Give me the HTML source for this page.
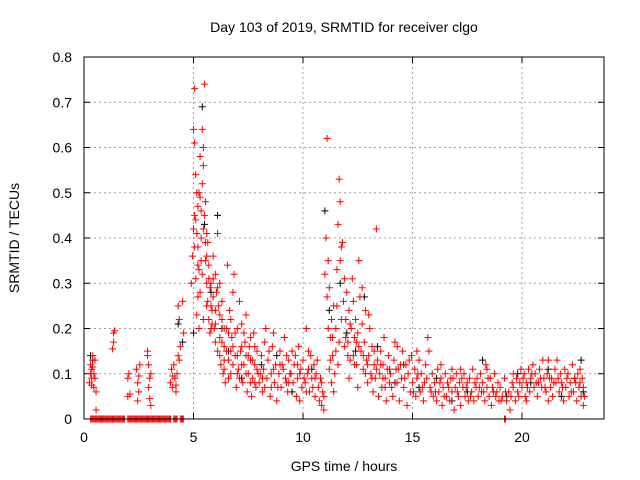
<!DOCTYPE html>
<html><head><meta charset="utf-8"><style>
body{margin:0;background:#fff;}
svg{display:block;font-family:"Liberation Sans",sans-serif;}
</style></head><body>
<svg id="chart" width="640" height="480">
<rect width="640" height="480" fill="#fff"/>
<text x="344" y="32" font-size="14" text-anchor="middle">Day 103 of 2019, SRMTID for receiver clgo</text>
<text x="344" y="471" font-size="14" text-anchor="middle">GPS time / hours</text>
<text transform="translate(19,238) rotate(-90)" font-size="14" text-anchor="middle">SRMTID / TECUs</text>
<g id="grid"></g><g id="ticks"></g><g id="marks"></g>
<rect x="84" y="57" width="520" height="362" fill="none" stroke="#000" stroke-width="1"/>
</svg>
<script>
const xTicks=[0,5,10,15,20];
const yTicks=[0,0.1,0.2,0.3,0.4,0.5,0.6,0.7,0.8];
const yTickLabels=["0","0.1","0.2","0.3","0.4","0.5","0.6","0.7","0.8"];
const zeroTimes=[0.3,0.4,0.5,0.6,0.7,0.8,0.9,1.0,1.1,1.2,1.3,1.4,1.5,1.6,1.7,1.8,2.0,2.1,2.2,2.3,2.4,2.5,2.6,2.7,2.8,2.9,3.0,3.1,3.2,3.3,3.4,3.5,3.6,3.7,3.8,3.9,4.1,4.2,4.4,4.5,19.2];
const blackPoints=[[0.3,0.14],[0.4,0.13],[4.3,0.21],[4.5,0.17],[5.0,0.19],[5.4,0.69],[5.5,0.43],[6.1,0.45],[5.8,0.28],[6.3,0.2],[6.6,0.15],[7.2,0.09],[8.1,0.12],[8.8,0.14],[9.5,0.06],[10.4,0.11],[11.0,0.46],[11.2,0.24],[11.7,0.3],[12.0,0.19],[12.4,0.15],[12.8,0.27],[13.4,0.16],[14.2,0.08],[14.6,0.12],[15.3,0.07],[16.1,0.09],[16.8,0.04],[17.5,0.06],[18.2,0.13],[18.7,0.06],[19.3,0.05],[19.8,0.1],[20.4,0.08],[21.2,0.11],[21.8,0.05],[22.4,0.09],[22.7,0.13],[22.8,0.06]];
const redPoints=[
[0.25,0.08],[0.3,0.1],[0.3,0.12],[0.35,0.09],[0.35,0.11],[0.4,0.14],[0.45,0.1],[0.45,0.07],[0.5,0.13],[0.5,0.09],[0.55,0.06],[0.55,0.02],[0.4,0.115],[0.35,0.075],
[1.35,0.19],[1.35,0.17],[1.4,0.195],[1.3,0.155],
[2.0,0.09],[2.05,0.1],[2.0,0.05],[2.1,0.055],[2.4,0.11],[2.45,0.08],[2.5,0.06],[2.45,0.04],[2.55,0.12],[2.5,0.095],
[2.9,0.14],[2.95,0.12],[3.0,0.09],[2.95,0.07],[3.05,0.1],[3.0,0.045],[3.05,0.03],[2.9,0.15],
[3.95,0.08],[4.0,0.11],[4.05,0.07],[4.1,0.12],[4.15,0.09],[4.2,0.06],[4.25,0.1],[4.3,0.14],[4.35,0.13],[4.4,0.16],[4.3,0.25],[4.35,0.22],[4.5,0.26],[4.55,0.19],[4.05,0.095],[4.2,0.075],
[4.9,0.3],[4.95,0.36],[5.0,0.42],[5.0,0.64],[5.05,0.61],[5.05,0.73],[5.1,0.54],[5.1,0.44],[5.15,0.5],[5.2,0.38],[5.2,0.47],[5.25,0.33],[5.3,0.49],[5.3,0.28],[5.35,0.4],[5.4,0.52],[5.4,0.64],[5.45,0.6],[5.45,0.56],[5.5,0.74],[5.5,0.45],[5.55,0.35],[5.6,0.3],[5.6,0.41],[5.65,0.26],[5.7,0.22],[5.7,0.34],[5.75,0.19],[5.8,0.3],[5.85,0.24],[5.9,0.36],[5.95,0.2],[6.0,0.32],[6.05,0.28],[6.1,0.41],[6.1,0.15],[6.15,0.25],[6.2,0.18],[6.25,0.12],[6.3,0.22],[6.35,0.1],[6.4,0.16],[6.45,0.08],[6.5,0.2],[6.55,0.34],[6.6,0.13],[6.65,0.24],[6.7,0.1],[6.75,0.18],[6.8,0.28],[6.85,0.32],[6.9,0.14],[6.95,0.07],[7.0,0.2],[7.05,0.11],[7.1,0.26],[7.15,0.15],[7.2,0.21],[7.25,0.08],[7.3,0.12],[7.35,0.17],[7.4,0.23],[7.45,0.06],[7.5,0.1],[7.55,0.16],[7.6,0.13],[7.65,0.05],[7.7,0.09],[7.75,0.19],[7.8,0.12],[7.85,0.07],[7.9,0.15],[7.95,0.1],
[5.2,0.27],[5.35,0.35],[5.55,0.48],[5.75,0.29],[5.9,0.27],[6.0,0.17],[5.1,0.31],[5.3,0.58],[6.2,0.3],[6.3,0.26],[5.65,0.39],[5.85,0.21],[6.4,0.2],[6.7,0.15],[5.15,0.23],[5.25,0.2],[5.45,0.22],
[8.0,0.08],[8.1,0.14],[8.15,0.06],[8.2,0.11],[8.3,0.2],[8.35,0.09],[8.4,0.13],[8.5,0.05],[8.55,0.1],[8.6,0.16],[8.7,0.08],[8.75,0.12],[8.8,0.04],[8.9,0.1],[8.95,0.15],[9.0,0.07],[9.1,0.11],[9.15,0.18],[9.2,0.09],[9.3,0.06],[9.35,0.13],[9.4,0.1],[9.5,0.15],[9.55,0.08],[9.6,0.12],[9.7,0.05],[9.75,0.09],[9.8,0.16],[9.9,0.11],[9.95,0.07],[10.0,0.13],[10.1,0.08],[10.15,0.2],[10.2,0.1],[10.3,0.06],[10.35,0.14],[10.4,0.09],[10.5,0.12],[10.55,0.05],[10.6,0.1],[10.7,0.07],[10.75,0.04],[10.8,0.09],[10.85,0.03],[10.9,0.06],[10.95,0.02],[8.25,0.17],[8.65,0.19],[9.25,0.14],[9.85,0.04],[10.25,0.15],
[11.0,0.32],[11.05,0.4],[11.1,0.62],[11.15,0.35],[11.2,0.29],[11.25,0.18],[11.3,0.22],[11.35,0.14],[11.4,0.25],[11.45,0.1],[11.5,0.2],[11.55,0.33],[11.6,0.43],[11.65,0.53],[11.7,0.48],[11.75,0.38],[11.8,0.39],[11.85,0.26],[11.9,0.31],[11.95,0.22],[12.0,0.28],[12.05,0.17],[12.1,0.24],[12.15,0.13],[12.2,0.2],[12.25,0.31],[12.3,0.26],[12.35,0.18],[12.4,0.22],[12.45,0.12],[12.5,0.19],[12.55,0.35],[12.6,0.27],[12.65,0.15],[12.7,0.21],[12.75,0.11],[12.8,0.17],[12.85,0.24],[12.9,0.13],[12.95,0.08],[13.0,0.14],[13.05,0.2],[13.1,0.1],[13.15,0.16],[13.2,0.06],[13.25,0.12],[13.3,0.09],[13.35,0.42],[13.4,0.13],[13.45,0.05],[13.5,0.1],[13.55,0.15],[13.6,0.07],[13.65,0.12],[13.7,0.18],[13.75,0.09],[13.8,0.04],[13.85,0.11],[13.9,0.14],[13.95,0.08],
[11.1,0.27],[11.3,0.08],[11.5,0.15],[11.7,0.35],[11.9,0.16],[12.1,0.09],[12.3,0.14],[12.5,0.07],[12.7,0.29],[13.0,0.23],[11.2,0.11],[11.4,0.06],[11.6,0.12],
[14.0,0.1],[14.1,0.05],[14.15,0.13],[14.2,0.17],[14.3,0.08],[14.35,0.11],[14.4,0.04],[14.5,0.09],[14.55,0.15],[14.6,0.07],[14.7,0.12],[14.75,0.03],[14.8,0.1],[14.9,0.06],[14.95,0.14],[15.0,0.08],[15.1,0.11],[15.15,0.05],[15.2,0.09],[15.3,0.13],[15.35,0.06],[15.4,0.1],[15.5,0.04],[15.55,0.08],[15.6,0.12],[15.7,0.18],[15.75,0.15],[15.8,0.07],[15.9,0.1],[15.95,0.05],
[16.0,0.08],[16.1,0.04],[16.15,0.11],[16.2,0.06],[16.3,0.09],[16.35,0.03],[16.4,0.07],[16.5,0.1],[16.55,0.05],[16.6,0.08],[16.7,0.04],[16.75,0.09],[16.8,0.06],[16.9,0.02],[16.95,0.07],[17.0,0.1],[17.1,0.05],[17.15,0.08],[17.2,0.03],[17.3,0.07],[17.35,0.1],[17.4,0.05],[17.5,0.08],[17.55,0.04],[17.6,0.09],[17.7,0.06],[17.75,0.11],[17.8,0.04],[17.9,0.07],[17.95,0.09],
[18.0,0.05],[18.1,0.1],[18.15,0.06],[18.2,0.08],[18.3,0.04],[18.35,0.12],[18.4,0.07],[18.5,0.05],[18.55,0.09],[18.6,0.03],[18.7,0.06],[18.75,0.1],[18.8,0.05],[18.9,0.08],[18.95,0.04],[19.0,0.07],[19.1,0.05],[19.2,0.09],[19.3,0.04],[19.4,0.06],[19.45,0.02],[19.5,0.05],[19.6,0.07],[19.7,0.04],[19.75,0.09],[19.8,0.06],[19.9,0.08],[19.95,0.11],
[20.0,0.07],[20.1,0.1],[20.15,0.05],[20.2,0.08],[20.3,0.11],[20.35,0.06],[20.4,0.09],[20.5,0.12],[20.55,0.07],[20.6,0.1],[20.7,0.05],[20.75,0.08],[20.8,0.11],[20.9,0.07],[20.95,0.13],[21.0,0.09],[21.1,0.06],[21.15,0.1],[21.2,0.13],[21.3,0.07],[21.35,0.09],[21.4,0.05],[21.5,0.11],[21.55,0.08],[21.6,0.13],[21.7,0.06],[21.75,0.1],[21.8,0.08],[21.9,0.04],[21.95,0.11],
[22.0,0.07],[22.1,0.1],[22.15,0.05],[22.2,0.08],[22.3,0.12],[22.35,0.06],[22.4,0.09],[22.5,0.04],[22.55,0.1],[22.6,0.07],[22.65,0.11],[22.7,0.05],[22.75,0.09],[22.8,0.07],[22.8,0.03],
[16.3,0.12],[17.2,0.11],[18.4,0.11],[19.6,0.1],[20.2,0.04],[21.2,0.04],[15.2,0.15],[14.3,0.16],[16.8,0.11]
];
const redPointsExtra=[
[5.05,0.45],[5.15,0.41],[5.25,0.5],[5.35,0.46],[5.45,0.42],[5.55,0.39],[5.6,0.36],[5.7,0.31],[5.8,0.25],[5.9,0.31],[6.0,0.24],[6.1,0.29],[6.2,0.23],[6.3,0.17],[6.4,0.13],[6.5,0.15],[6.6,0.19],[6.7,0.22],[6.8,0.12],[6.9,0.19],[7.0,0.14],[7.1,0.09],[7.2,0.16],[7.3,0.19],[7.4,0.1],[7.5,0.14],[7.6,0.18],[7.7,0.13],[7.8,0.08],[7.9,0.11],
[5.05,0.38],[5.2,0.34],[5.4,0.32],[5.6,0.25],[5.8,0.2],[6.0,0.21],[6.2,0.14],[6.4,0.11],[6.6,0.09],[6.8,0.16],[7.0,0.1],[7.2,0.12],[7.4,0.14],[7.6,0.08],[7.8,0.16],
[8.05,0.1],[8.25,0.07],[8.45,0.15],[8.65,0.11],[8.85,0.07],[9.05,0.12],[9.25,0.08],[9.45,0.1],[9.65,0.14],[9.85,0.1],[10.05,0.09],[10.25,0.11],[10.45,0.07],[10.65,0.13],[10.85,0.08],
[8.15,0.09],[8.55,0.07],[8.95,0.12],[9.35,0.08],[9.75,0.12],[10.15,0.06],[10.55,0.09],[10.95,0.05],
[11.15,0.2],[11.35,0.18],[11.55,0.25],[11.75,0.22],[11.95,0.18],[12.15,0.21],[12.35,0.12],[12.55,0.16],[12.75,0.14],[12.95,0.12],[13.15,0.09],[13.35,0.11],[13.55,0.12],[13.75,0.07],[13.95,0.11],
[11.25,0.13],[11.65,0.17],[12.05,0.14],[12.45,0.17],[12.85,0.1],[13.25,0.15],[13.65,0.09],
[14.05,0.07],[14.25,0.11],[14.45,0.12],[14.65,0.09],[14.85,0.13],[15.05,0.06],[15.25,0.1],[15.45,0.07],[15.65,0.09],[15.85,0.06],
[16.05,0.06],[16.25,0.08],[16.45,0.05],[16.65,0.07],[16.85,0.09],[17.05,0.06],[17.25,0.09],[17.45,0.07],[17.65,0.05],[17.85,0.08],
[18.05,0.07],[18.25,0.06],[18.45,0.09],[18.65,0.07],[18.85,0.06],[19.05,0.04],[19.25,0.06],[19.55,0.08],[19.85,0.05],[20.05,0.09],
[20.25,0.07],[20.45,0.1],[20.65,0.08],[20.85,0.09],[21.05,0.07],[21.25,0.09],[21.45,0.08],[21.65,0.09],[21.85,0.07],[22.05,0.09],[22.25,0.06],[22.45,0.08],[22.65,0.08],[22.85,0.05]
];
const X0=84,X1=604,Y0=419,Y1=57;
function xs(t){return X0+t*(303-84)/10;}
function ys(v){return Y0-v*(Y0-Y1)/0.8;}
const NS="http://www.w3.org/2000/svg";
const grid=document.getElementById('grid'),ticks=document.getElementById('ticks'),marks=document.getElementById('marks');
function mk(tag,attrs,parent){const e=document.createElementNS(NS,tag);for(const k in attrs)e.setAttribute(k,attrs[k]);parent.appendChild(e);return e;}
xTicks.forEach(t=>{const x=xs(t);
 if(t>0){const g=mk('line',{x1:x,x2:x,y1:Y1,y2:Y0,stroke:'#a0a0a0','stroke-dasharray':'2,3'},grid);
 
 }
 mk('line',{x1:x,x2:x,y1:Y0,y2:Y0-6,stroke:'#000'},ticks);mk('line',{x1:x,x2:x,y1:Y1,y2:Y1+6,stroke:'#000'},ticks);
 const l=mk('text',{x:x,y:442,'font-size':14,'text-anchor':'middle'},ticks);l.textContent=t;
 
 });
yTicks.forEach((v,i)=>{const y=ys(v);
 if(i>0&&i<yTicks.length-1){const g=mk('line',{x1:X0,x2:X1,y1:y,y2:y,stroke:'#a0a0a0','stroke-dasharray':'2,3'},grid);
 
 }
 mk('line',{x1:X0,x2:X0+6,y1:y,y2:y,stroke:'#000'},ticks);mk('line',{x1:X1,x2:X1-6,y1:y,y2:y,stroke:'#000'},ticks);
 const l=mk('text',{x:72,y:y+5,'font-size':14,'text-anchor':'end'},ticks);l.textContent=yTickLabels[i];
 
 });
function plus(t,v,col,name){const x=xs(t),y=ys(v);
 const p=mk('path',{d:`M${x-3.5},${y}h7M${x},${y-3.5}v7`,stroke:col,'stroke-width':1},marks);
 
 }
blackPoints.forEach(p=>plus(p[0],p[1],'#000','black-point'));
redPoints.forEach(p=>plus(p[0],p[1],'#f00','red-point'));
redPointsExtra.forEach(p=>plus(p[0],p[1],'#f00','red-point'));
zeroTimes.forEach(t=>plus(t,0,'#f00','zero-point'));
zeroTimes.forEach(t=>plus(t+0.05,0,'#f00','zero-point'));
</script>
</body></html>
